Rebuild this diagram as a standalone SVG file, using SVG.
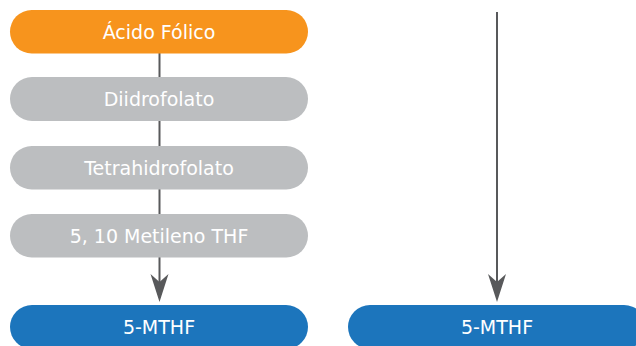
<svg xmlns="http://www.w3.org/2000/svg" width="636" height="346" viewBox="0 0 636 346">
<style>
.lbl{font-family:"DejaVu Sans","Liberation Sans",sans-serif;font-size:19px;fill:#ffffff;text-anchor:middle}
.conn{stroke:#58595B;stroke-width:2;fill:none}
.orange{fill:#F7941D}
.grey{fill:#BCBEC0}
.blue{fill:#1C75BC}
</style>
<defs>
<marker id="arr" markerUnits="userSpaceOnUse" markerWidth="30" markerHeight="20" viewBox="0 0 30 20" refX="13" refY="10" orient="auto">
<path d="M0,1 L28,10 L0,19 L8,10 Z" fill="#58595B"/>
</marker>
</defs>
<g id="connectors">
<path class="conn" d="M159.5,53 V287" marker-end="url(#arr)"/>
<path class="conn" d="M497,12 V287" marker-end="url(#arr)"/>
</g>
<g id="acido-folico">
<rect class="orange" x="10" y="10" width="298" height="43.5" rx="21.75"/>
<text class="lbl" x="159" y="39">Ácido Fólico</text>
</g>
<g id="diidrofolato">
<rect class="grey" x="10" y="77" width="298" height="44" rx="22"/>
<text class="lbl" x="159" y="106">Diidrofolato</text>
</g>
<g id="tetrahidrofolato">
<rect class="grey" x="10" y="146" width="298" height="43.5" rx="21.75"/>
<text class="lbl" x="159" y="175">Tetrahidrofolato</text>
</g>
<g id="metileno-thf">
<rect class="grey" x="10" y="214" width="298" height="43.5" rx="21.75"/>
<text class="lbl" x="159" y="243">5, 10 Metileno THF</text>
</g>
<g id="mthf-left">
<rect class="blue" x="10" y="305" width="298" height="44" rx="22"/>
<text class="lbl" x="159" y="334">5-MTHF</text>
</g>
<g id="mthf-right">
<rect class="blue" x="348" y="305" width="298" height="44" rx="22"/>
<text class="lbl" x="497" y="334">5-MTHF</text>
</g>
</svg>
